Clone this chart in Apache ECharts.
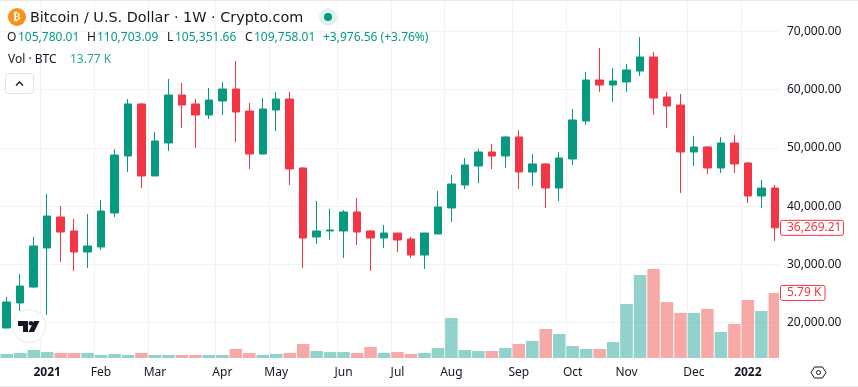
<!DOCTYPE html>
<html>
<head>
<meta charset="utf-8">
<style>
  html, body { margin: 0; padding: 0; background: #fff; }
  #chart { width: 858px; height: 387px; }
</style>
<script src="https://cdn.jsdelivr.net/npm/echarts@6/dist/echarts.min.js"></script>
</head>
<body>
<div id="chart"></div>
<script>
// weekly bars
const weeks = ['2020-12-14','2020-12-21','2020-12-28','2021-01-04','2021-01-11','2021-01-18','2021-01-25','2021-02-01','2021-02-08','2021-02-15','2021-02-22','2021-03-01','2021-03-08','2021-03-15','2021-03-22','2021-03-29','2021-04-05','2021-04-12','2021-04-19','2021-04-26','2021-05-03','2021-05-10','2021-05-17','2021-05-24','2021-05-31','2021-06-07','2021-06-14','2021-06-21','2021-06-28','2021-07-05','2021-07-12','2021-07-19','2021-07-26','2021-08-02','2021-08-09','2021-08-16','2021-08-23','2021-08-30','2021-09-06','2021-09-13','2021-09-20','2021-09-27','2021-10-04','2021-10-11','2021-10-18','2021-10-25','2021-11-01','2021-11-08','2021-11-15','2021-11-22','2021-11-29','2021-12-06','2021-12-13','2021-12-20','2021-12-27','2022-01-03','2022-01-10','2022-01-17'];
const opens = [19060,23360,26100,32810,38130,35730,32120,32980,38820,48610,57550,45180,50850,59090,57550,55660,58060,60120,56340,48950,56510,58400,46550,34700,35730,35730,38990,35730,34520,35380,34350,31600,35210,39680,43630,46890,49300,48610,51880,45860,47240,43110,48100,54620,61670,60810,61330,63210,65620,58750,57370,49300,50160,46550,50850,47410,41740,43110];
const closes = [23530,26280,33150,38300,35550,32120,33150,39160,48780,57550,45180,51190,59090,57370,55660,58230,60120,56170,48950,56690,58400,46380,34520,35730,35900,38990,35550,34520,35380,34180,31600,35380,39850,43800,47070,49300,48610,51880,45860,47240,43110,48270,54800,61670,60810,61500,63390,65620,58580,57200,49300,50160,46550,50850,47240,41740,43110,36269.21];
const lows = [19060,21980,25930,21300,30400,28850,29370,32460,38130,45860,43110,45180,49470,53420,49990,54970,55660,51020,46380,48950,52910,43630,29370,33490,34180,31090,33320,28850,32810,32120,31090,29200,35210,37270,42940,43970,46380,46550,42940,43460,39680,40880,47060,53940,59610,57890,59610,62360,55660,53420,42260,46890,45520,45690,45690,40540,39680,34010];
const highs = [24390,28340,34700,42080,40020,37790,38650,41050,49810,58400,57720,52730,61840,61150,58400,60290,61330,64930,57720,58580,59610,59610,46720,40880,39510,39330,41400,35900,36760,35380,34700,35380,42600,45350,48270,49810,50670,52050,53080,48960,47410,49300,56690,63040,67170,63730,64420,69060,66480,59610,59260,52050,50330,51880,52220,47580,44490,43630];
const volumes = [360,450,710,530,450,450,450,270,360,270,450,270,270,270,270,270,270,800,450,270,360,450,1250,620,530,530,450,980,450,530,360,450,890,3560,710,620,620,890,1250,1510,2580,2140,1070,800,800,1420,4810,7390,7920,4980,4010,4010,4360,2310,3030,5160,4180,5790];
const monthLabels = {3:'2021',7:'Feb',11:'Mar',16:'Apr',20:'May',25:'Jun',29:'Jul',33:'Aug',38:'Sep',42:'Oct',46:'Nov',51:'Dec',55:'2022'};
const priceTicks = [20000,30000,40000,50000,60000,70000];

const UP = '#089981', DOWN = '#f23645', GRID = '#f2f2f3';
const FONT = '"Noto Sans", sans-serif';
const PRICE_MIN = 13908, PRICE_MAX = 75412;
const last = closes.length - 1;

const chart = echarts.init(document.getElementById('chart'), null, { renderer: 'canvas' });

const candleData = weeks.map((w, i) => {
  const c = closes[i] >= opens[i] ? UP : DOWN;
  return {
    value: [opens[i], closes[i], lows[i], highs[i]],
    itemStyle: { color: c, color0: c, borderColor: c, borderColor0: c }
  };
});
const volumeData = volumes.map((v, i) => ({
  value: v,
  itemStyle: { color: closes[i] >= opens[i] ? 'rgba(38,166,154,0.5)' : 'rgba(239,83,80,0.5)' }
}));

chart.setOption({
  animation: false,
  backgroundColor: '#fff',
  grid: { left: -1.45, top: 0, width: 783, height: 358 },
  xAxis: {
    type: 'category',
    data: weeks,
    boundaryGap: true,
    axisLine: { show: false },
    axisTick: { show: false },
    axisLabel: {
      interval: (i) => monthLabels[i] !== undefined,
      formatter: (v, i) => {
        const t = monthLabels[i] || '';
        return t.startsWith('20') ? '{year|' + t + '}' : t;
      },
      color: '#131722', fontFamily: FONT, fontSize: 12, margin: 9,
      hideOverlap: false,
      rich: { year: { fontFamily: FONT, fontSize: 12, fontWeight: 'bold', color: '#131722' } }
    },
    splitLine: {
      show: true,
      interval: (i) => monthLabels[i] !== undefined,
      lineStyle: { color: GRID, width: 1 }
    }
  },
  yAxis: [
    // the gridlines stay behind the marks
    {
      type: 'value', position: 'right', z: 0,
      min: PRICE_MIN, max: PRICE_MAX,
      axisLine: { show: false },
      axisTick: { show: false, customValues: priceTicks },
      axisLabel: { show: false, customValues: priceTicks },
      splitLine: { show: true, lineStyle: { color: GRID, width: 1 } }
    },
    {
      type: 'value', min: 0, max: 31860, show: false,
      splitLine: { show: false }
    },
    // the labels stay above the mask past the last bar
    {
      type: 'value', position: 'right', z: 10,
      min: PRICE_MIN, max: PRICE_MAX,
      axisLine: { show: false },
      axisTick: { show: false, customValues: priceTicks },
      axisLabel: {
        customValues: priceTicks,
        formatter: (v) => v.toLocaleString('en-US', { minimumFractionDigits: 2 }),
        color: '#131722', fontFamily: FONT, fontSize: 12, margin: 5.45
      },
      splitLine: { show: false }
    }
  ],
  series: [
    {
      type: 'bar', name: 'Volume', yAxisIndex: 1, data: volumeData,
      barWidth: 12.5, z: 1
    },
    {
      type: 'candlestick', name: 'BTC', yAxisIndex: 0, data: candleData,
      barWidth: 8, itemStyle: { borderWidth: 1 }, z: 2
    }
  ],
  graphic: []
});

// price and volume tags sit on the axis at the last bar's values
const priceY = chart.convertToPixel({ yAxisIndex: 0 }, closes[last]);
const volY = chart.convertToPixel({ yAxisIndex: 1 }, volumes[last]);

function tag(text, y, w) {
  return {
    type: 'group', z: 20, children: [
      { type: 'rect', z: 20, shape: { x: 780.5, y: y - 7.5, width: w, height: 15, r: 2 },
        style: { fill: '#fff', stroke: DOWN, lineWidth: 1 } },
      { type: 'text', z: 21, x: 787, y: y,
        style: { text: text, fill: DOWN, font: '12px ' + FONT, textVerticalAlign: 'middle' } }
    ]
  };
}

function legendText(text, x, y, fill) {
  return { type: 'text', z: 8, x: x, y: y, style: { text: text, fill: fill, font: '12px ' + FONT, textVerticalAlign: 'middle' } };
}

chart.setOption({
  graphic: [
    // hides the plot past the last bar, under the axis labels
    { type: 'rect', z: 5, shape: { x: 779, y: 0, width: 79, height: 387 }, style: { fill: '#fff' } },
    { type: 'rect', z: 6, shape: { x: 0, y: 0, width: 858, height: 1 }, style: { fill: '#e9e9ea' } },
    { type: 'rect', z: 6, shape: { x: 0, y: 386, width: 858, height: 1 }, style: { fill: '#e9e9ea' } },

    // title row
    { type: 'circle', z: 7, shape: { cx: 17, cy: 17, r: 9 }, style: { fill: '#f7931a' } },
    { type: 'text', z: 8, x: 17, y: 17, style: { text: '₿', fill: '#fff', font: 'bold 11px "DejaVu Sans"', textAlign: 'center', textVerticalAlign: 'middle' } },
    { type: 'text', z: 8, x: 30, y: 18, style: { text: 'Bitcoin / U.S. Dollar · 1W · Crypto.com', fill: '#131722', font: '14.4px "DejaVu Sans"', textVerticalAlign: 'middle' } },
    { type: 'circle', z: 7, shape: { cx: 328, cy: 17, r: 9 }, style: { fill: '#dff2ef' } },
    { type: 'circle', z: 8, shape: { cx: 328, cy: 17, r: 4 }, style: { fill: UP } },

    // OHLC row
    legendText('O', 7, 38, '#131722'),
    legendText('105,780.01', 18, 38, UP),
    legendText('H', 87, 38, '#131722'),
    legendText('110,703.09', 97, 38, UP),
    legendText('L', 167, 38, '#131722'),
    legendText('105,351.66', 175, 38, UP),
    legendText('C', 245, 38, '#131722'),
    legendText('109,758.01', 254, 38, UP),
    legendText('+3,976.56 (+3.76%)', 323, 38, UP),

    // volume row
    legendText('Vol · BTC', 8, 60, '#131722'),
    legendText('13.77 K', 70, 60, '#26a69a'),

    // collapse button
    { type: 'rect', z: 7, shape: { x: 5.5, y: 73.5, width: 28, height: 20, r: 3 }, style: { fill: '#fff', stroke: '#e0e3eb', lineWidth: 1 } },
    { type: 'polyline', z: 8, shape: { points: [[16, 85.5], [19.5, 82], [23, 85.5]] }, style: { fill: 'none', stroke: '#131722', lineWidth: 1.3 } },

    // logo
    { type: 'circle', z: 7, shape: { cx: 29, cy: 326, r: 16.5 }, style: { fill: '#fff', stroke: '#ececec', lineWidth: 1 } },
    { type: 'polygon', z: 8, shape: { points: [[18, 321], [28, 321], [28, 332], [23, 332], [23, 326], [18, 326]] }, style: { fill: '#131722' } },
    { type: 'circle', z: 8, shape: { cx: 31, cy: 323.3, r: 2.3 }, style: { fill: '#131722' } },
    { type: 'polygon', z: 8, shape: { points: [[34, 321], [39.5, 321], [34, 332], [28.5, 332]] }, style: { fill: '#131722' } },

    // settings hexagon
    { type: 'polygon', z: 8, shape: { points: [[811, 372.5], [814.5, 367], [822.5, 367], [826, 372.5], [822.5, 378], [814.5, 378]] }, style: { fill: 'none', stroke: '#131722', lineWidth: 1 } },
    { type: 'circle', z: 8, shape: { cx: 818.5, cy: 372.5, r: 2 }, style: { fill: 'none', stroke: '#131722', lineWidth: 1 } },

    tag('36,269.21', priceY, 63),
    tag('5.79 K', volY, 44.5)
  ]
});
</script>
</body>
</html>
